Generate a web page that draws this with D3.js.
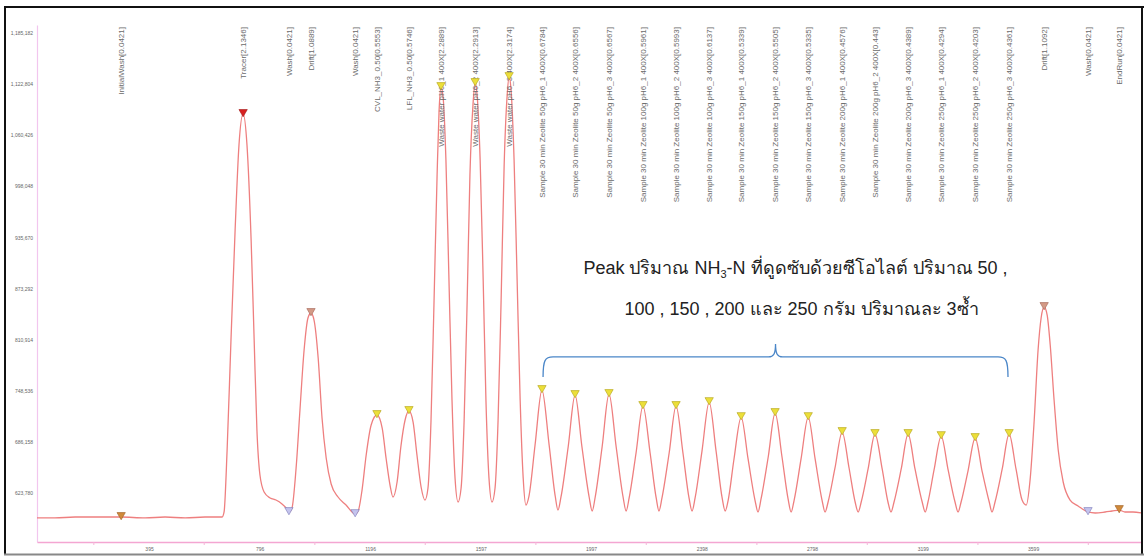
<!DOCTYPE html>
<html><head><meta charset="utf-8">
<script src="https://cdn.jsdelivr.net/npm/d3@7"></script>
<style>
html,body{margin:0;padding:0;background:#fff;}
svg{display:block;}
</style></head><body>
<svg id="chart" width="1144" height="556"></svg>
<script>
// ---------------- DATA ----------------
const yTickValues = [623780, 686158, 748536, 810914, 873292, 935670, 998048, 1060426, 1122804, 1185182];
const yTickLabels = ["623,780","686,158","748,536","810,914","873,292","935,670","998,048","1,060,426","1,122,804","1,185,182"];
const xTickValues = [395, 796, 1196, 1597, 1997, 2398, 2798, 3199, 3599];
const xTickLabels = ["395","796","1196","1597","1997","2398","2798","3199","3599"];
const xMinorTicks = [195, 595, 996, 1396, 1797, 2197, 2598, 2998, 3399, 3799];

// detector trace [time, signal]
const tracePoints = [
  [-11,593300],[54,593300],[127,594500],[199,594500],[294,594500],[381,593300],[453,594500],[526,593300],[598,594500],[660,594500],
  [667,600600],[678,676300],[692,810500],[707,944800],[721,1048500],[736,1086400],[750,1048500],[765,932600],[776,810500],[786,700700],
  [797,645700],[812,625000],[834,617700],[855,615200],[877,610400],[892,605500],[902,600600],
  [913,605500],[928,654300],[942,725100],[957,798300],[971,837400],[982,843500],[993,834900],[1008,788500],[1022,715300],[1037,666500],
  [1055,634800],[1080,618900],[1109,609100],[1142,598100],
  [1153,601800],[1167,627400],[1182,670200],[1200,706800],[1221,719000],[1240,703100],[1254,666500],[1269,632300],[1279,618900],
  [1294,637200],[1308,681100],[1323,712900],[1337,723900],[1352,710400],[1366,670200],[1381,631100],[1395,615200],
  [1406,629900],[1417,712900],[1428,859300],[1439,1011900],[1446,1088800],[1453,1119300],[1461,1105900],[1471,1030200],[1482,883700],[1493,737300],[1504,642100],[1515,612800],
  [1526,629900],[1537,712900],[1548,859300],[1558,1011900],[1569,1097300],[1577,1124200],[1584,1109500],[1595,1030200],[1606,883700],[1616,737300],[1627,642100],[1638,612800],
  [1649,629900],[1660,712900],[1671,859300],[1682,1024100],[1693,1109500],[1700,1131500],[1707,1115600],[1718,1030200],[1729,883700],[1740,737300],[1751,642100],[1761,609100],
  [1772,620100],[1794,682400],[1819,749500],[1845,682400],[1867,620100],[1877,603000],
  [1888,618900],[1914,679900],[1939,743400],[1964,679900],[1990,618900],[2001,601800],
  [2012,618900],[2037,679900],[2062,744600],[2088,679900],[2113,618900],[2124,601800],
  [2135,617700],[2160,672600],[2185,730000],[2211,672600],[2233,617700],[2243,601800],
  [2254,617700],[2280,672600],[2305,730000],[2330,672600],[2352,617700],[2363,601800],
  [2374,617700],[2399,675000],[2425,734800],[2450,675000],[2472,617700],[2483,601800],
  [2494,615200],[2515,665300],[2541,716500],[2566,665300],[2591,615200],[2602,600600],
  [2613,616500],[2639,667700],[2664,721400],[2689,667700],[2711,616500],[2722,600600],
  [2733,615200],[2758,665300],[2784,716500],[2809,665300],[2834,615200],[2845,600600],
  [2856,612800],[2881,654300],[2907,698200],[2932,654300],[2954,612800],[2965,600600],
  [2976,612800],[3001,653100],[3026,695800],[3052,653100],[3073,612800],[3084,600600],
  [3095,612800],[3121,653100],[3146,695800],[3171,653100],[3197,612800],[3208,600600],
  [3218,612800],[3240,651900],[3266,693300],[3291,651900],[3316,612800],[3327,600600],
  [3338,612800],[3363,650600],[3389,690900],[3414,650600],[3440,612800],[3450,600600],
  [3461,612800],[3487,653100],[3512,695800],[3537,653100],[3559,615200],[3574,609100],
  [3588,639600],[3603,712900],[3617,798300],[3628,837400],[3639,850800],[3650,841000],[3661,804400],[3675,737300],[3690,676300],
  [3708,637200],[3733,615200],[3762,607900],[3798,600600],
  [3824,599400],[3860,600600],[3885,601800],[3911,603000],[3932,600600],[3961,600600],[3990,599400]
];

// event markers
const markerTime = [294, 736, 902, 982, 1142, 1221, 1337, 1453, 1577, 1700,
  1819, 1939, 2062, 2185, 2305, 2425, 2541, 2664, 2784, 2907, 3026, 3146, 3266, 3389, 3512,
  3639, 3798, 3911];
const markerSignal = [594500, 1086400, 600600, 843500, 598100, 719000, 723900, 1119300, 1124200, 1131500,
  749500, 743400, 744600, 730000, 730000, 734800, 716500, 721400, 716500, 698200, 695800, 695800, 693300, 690900, 695800,
  850800, 600600, 603000];
const markerKind = ["start","tracer","wash","drift","wash","peak","peak","peak","peak","peak",
  "peak","peak","peak","peak","peak","peak","peak","peak","peak","peak","peak","peak","peak","peak","peak",
  "drift","wash","end"];
const markerLabel = [
  "InitialWash[0.0421]",
  "Tracer[2.1346]",
  "Wash[0.0421]",
  "Drift[1.0889]",
  "Wash[0.0421]",
  "CVL_NH3_0.50[0.5553]",
  "LFL_NH3_0.50[0.5746]",
  "Waste water pH6_1  400X[2.2889]",
  "Waste water pH6_2  400X[2.2913]",
  "Waste water pH6_3  400X[2.3174]",
  "Sample 30 min Zeolite 50g  pH6_1  400X[0.6784]",
  "Sample 30 min Zeolite 50g  pH6_2  400X[0.6556]",
  "Sample 30 min Zeolite 50g  pH6_3  400X[0.6567]",
  "Sample 30 min Zeolite 100g  pH6_1  400X[0.5961]",
  "Sample 30 min Zeolite 100g  pH6_2  400X[0.5993]",
  "Sample 30 min Zeolite 100g  pH6_3  400X[0.6137]",
  "Sample 30 min Zeolite 150g  pH6_1  400X[0.5339]",
  "Sample 30 min Zeolite 150g  pH6_2  400X[0.5505]",
  "Sample 30 min Zeolite 150g  pH6_3  400X[0.5335]",
  "Sample 30 min Zeolite 200g  pH6_1  400X[0.4576]",
  "Sample 30 min Zeolite 200g  pH6_2  400X[0.443]",
  "Sample 30 min Zeolite 200g  pH6_3  400X[0.4389]",
  "Sample 30 min Zeolite 250g  pH6_1  400X[0.4294]",
  "Sample 30 min Zeolite 250g  pH6_2  400X[0.4203]",
  "Sample 30 min Zeolite 250g  pH6_3  400X[0.4361]",
  "Drift[1.1092]",
  "Wash[0.0421]",
  "EndRun[0.0421]"
];

// annotation brace (time span, signal levels)
const braceSpan = [1823, 3508];
const braceLevels = [765400, 789800, 805600];
const noteLine1 = ["Peak ปริมาณ NH", "3", "-N ที่ดูดซับด้วยซีโอไลต์ ปริมาณ 50 ,"];
const noteLine2 = "100 , 150 , 200 และ 250 กรัม ปริมาณละ 3ซ้ำ";

// ---------------- DRAW ----------------
const svg = d3.select("#chart");
const x = d3.scaleLinear().domain([-11, 3990]).range([37, 1141]);
const y = d3.scaleLinear().domain([563975, 1194974]).range([542, 25]);

svg.append("rect").attr("x",0).attr("y",0).attr("width",1144).attr("height",556).attr("fill","#fff");

// y axis
const yAxis = d3.axisLeft(y).tickValues(yTickValues).tickFormat((d,i)=>yTickLabels[i]).tickSize(0).tickPadding(4);
const gy = svg.append("g").attr("transform","translate(37,0)").call(yAxis);
gy.select(".domain").attr("stroke","#f2c6ee").attr("stroke-width",1.2);
gy.selectAll("text").attr("font-family","Liberation Sans, Arial, sans-serif").attr("font-size",5).attr("fill","#666");

// x axis
const xAxis = d3.axisBottom(x).tickValues(xTickValues).tickFormat((d,i)=>xTickLabels[i]).tickSize(0).tickPadding(5);
const gx = svg.append("g").attr("transform","translate(0,542)").call(xAxis);
gx.select(".domain").attr("stroke","#f4a6d2").attr("stroke-width",1.5);
gx.selectAll("text").attr("font-family","Liberation Sans, Arial, sans-serif").attr("font-size",5).attr("fill","#666");
svg.append("g").selectAll("line").data(xMinorTicks).join("line")
  .attr("x1",d=>x(d)).attr("x2",d=>x(d)).attr("y1",542).attr("y2",545)
  .attr("stroke","#f4b6d8").attr("stroke-width",1);

// trace
const line = d3.line().x(d=>x(d[0])).y(d=>y(d[1])).curve(d3.curveMonotoneX);
svg.append("path").datum(tracePoints).attr("d",line)
  .attr("fill","none").attr("stroke","#ee7f7f").attr("stroke-width",1.3);

// labels
const labelG = svg.append("g");
markerTime.forEach((t,i)=>{
  labelG.append("text")
    .attr("transform",`translate(${x(t)},27) rotate(-90)`)
    .attr("text-anchor","end").attr("dy","0.35em")
    .attr("font-family","Liberation Sans, Arial, sans-serif").attr("font-size",8).attr("fill","#6a6a6a")
    .text(markerLabel[i]);
});

// markers
const fillFor = {start:"#d08a3a", end:"#d08a3a", tracer:"#d82020", wash:"#c4c4ee", drift:"#d49a86", peak:"#ecdf3a"};
const strokeFor = {start:"#9a5a20", end:"#9a5a20", tracer:"#a01010", wash:"#7a7ab8", drift:"#a06050", peak:"#b0a010"};
const tri = d3.symbol().type(d3.symbolTriangle).size(30);
svg.append("g").selectAll("path").data(markerTime).join("path")
  .attr("d",tri)
  .attr("transform",(d,i)=>`translate(${x(d)},${y(markerSignal[i])-2}) rotate(180)`)
  .attr("fill",(d,i)=>fillFor[markerKind[i]])
  .attr("stroke",(d,i)=>strokeFor[markerKind[i]]).attr("stroke-width",0.6);

// brace
const bx0 = x(braceSpan[0]), bx1 = x(braceSpan[1]), bxm = (bx0+bx1)/2;
const yb = y(braceLevels[0]), yh = y(braceLevels[1]), yt = y(braceLevels[2]);
const bp = d3.path();
bp.moveTo(bx0, yb);
bp.bezierCurveTo(bx0, yh+3, bx0+2, yh, bx0+10, yh);
bp.lineTo(bxm-7, yh);
bp.bezierCurveTo(bxm-2, yh, bxm, yh-3, bxm, yt);
bp.bezierCurveTo(bxm, yh-3, bxm+2, yh, bxm+7, yh);
bp.lineTo(bx1-10, yh);
bp.bezierCurveTo(bx1-2, yh, bx1, yh+3, bx1, yb);
svg.append("path").attr("d",bp.toString()).attr("fill","none").attr("stroke","#4a86c8").attr("stroke-width",1.3);

// annotation text
const noteFont = "Liberation Sans, Arial, Noto Sans, DejaVu Sans, sans-serif";
const t1 = svg.append("text").attr("x",bxm+20).attr("y",yt-70).attr("text-anchor","middle")
  .attr("font-family",noteFont).attr("font-size",18).attr("fill","#222");
t1.append("tspan").text(noteLine1[0]);
t1.append("tspan").attr("font-size",11).attr("dy",4).text(noteLine1[1]);
t1.append("tspan").attr("dy",-4).text(noteLine1[2]);
svg.append("text").attr("x",bxm+26).attr("y",yt-29).attr("text-anchor","middle")
  .attr("font-family",noteFont).attr("font-size",18).attr("fill","#222").text(noteLine2);

// frame
svg.append("line").attr("x1",5).attr("x2",5).attr("y1",6).attr("y2",555).attr("stroke","#111").attr("stroke-width",2);
svg.append("line").attr("x1",4).attr("x2",1144).attr("y1",7).attr("y2",7).attr("stroke","#111").attr("stroke-width",2);
svg.append("line").attr("x1",1142).attr("x2",1142).attr("y1",6).attr("y2",555).attr("stroke","#111").attr("stroke-width",2);
svg.append("line").attr("x1",4).attr("x2",1144).attr("y1",554.5).attr("y2",554.5).attr("stroke","#888").attr("stroke-width",2);
</script>
</body></html>
